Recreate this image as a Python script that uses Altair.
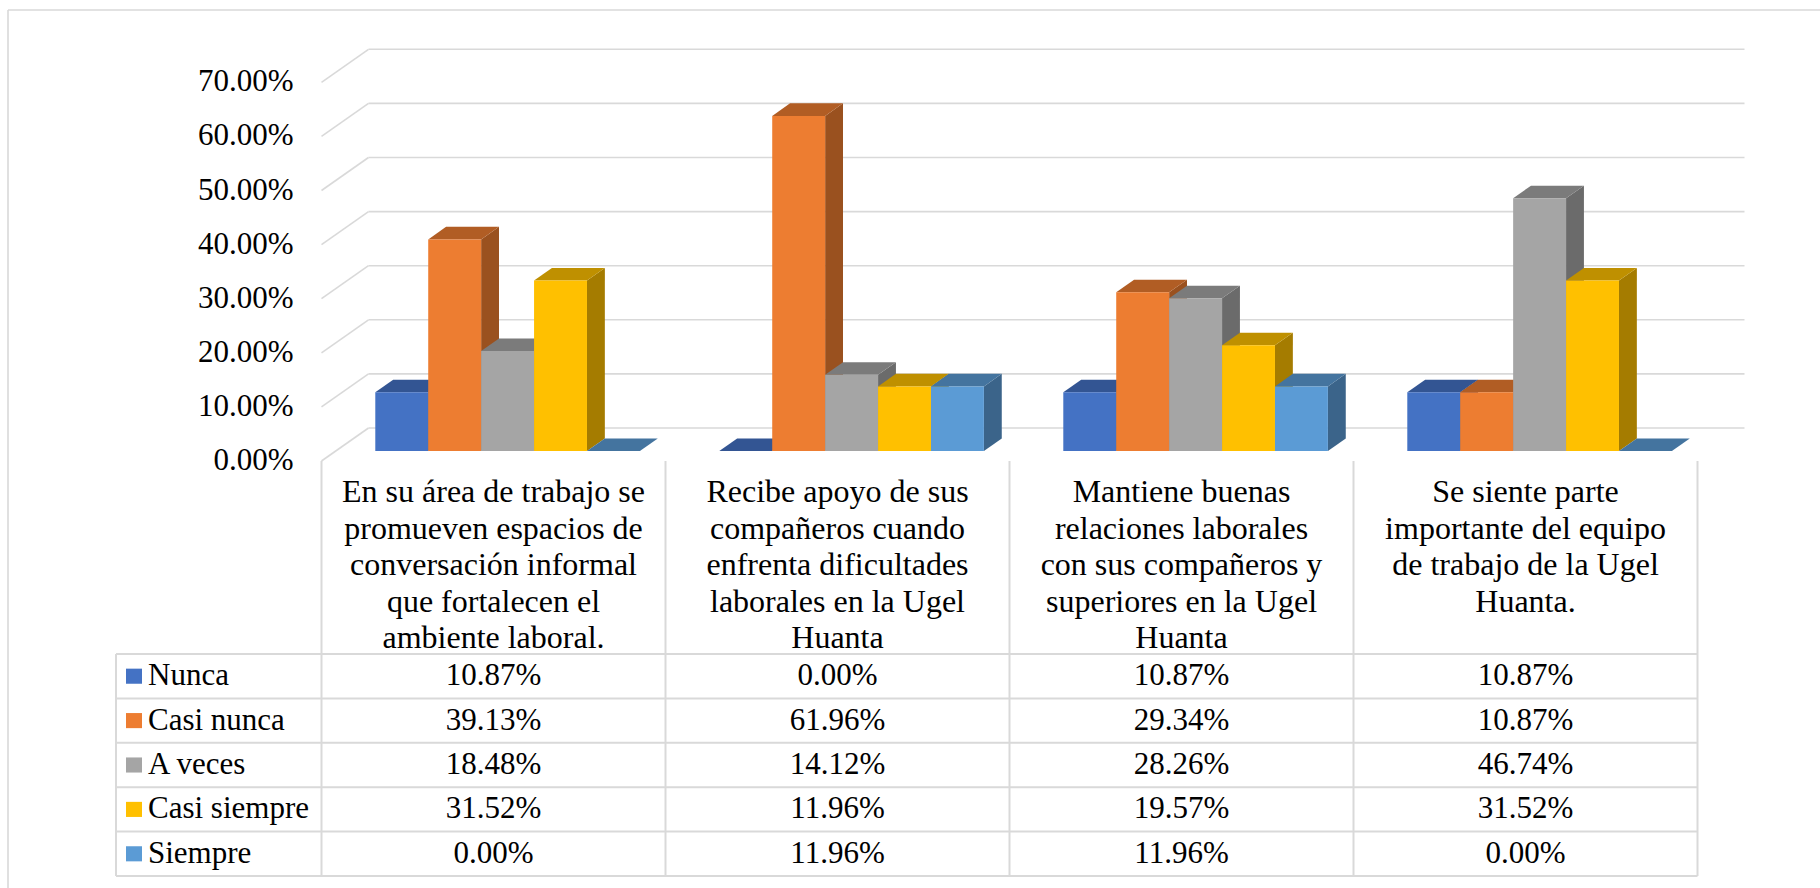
import altair as alt
import pandas as pd

# ---------------- data ----------------
categories = [
    "En su área de trabajo se\npromueven espacios de\nconversación informal\nque fortalecen el\nambiente laboral.",
    "Recibe apoyo de sus\ncompañeros cuando\nenfrenta dificultades\nlaborales en la Ugel\nHuanta",
    "Mantiene buenas\nrelaciones laborales\ncon sus compañeros y\nsuperiores en la Ugel\nHuanta",
    "Se siente parte\nimportante del equipo\nde trabajo de la Ugel\nHuanta.",
]
series = ["Nunca", "Casi nunca", "A veces", "Casi siempre", "Siempre"]
nunca = [10.87, 0.00, 10.87, 10.87]
casi_nunca = [39.13, 61.96, 29.34, 10.87]
a_veces = [18.48, 14.12, 28.26, 46.74]
casi_siempre = [31.52, 11.96, 19.57, 31.52]
siempre = [0.00, 11.96, 11.96, 0.00]
y_ticks = [0, 10, 20, 30, 40, 50, 60, 70]
colors = ["#4472C4", "#ED7D31", "#A5A5A5", "#FFC000", "#5B9BD5"]

values = [nunca, casi_nunca, a_veces, casi_siempre, siempre]

# ---------------- layout constants ----------------
W, H = 1820, 888
X0, COL = 321.5, 344.0      # front plane left edge, width of one category
Y0, PXP = 461.0, 5.41       # front plane 0 %, pixels per percent
R0, ROW = 654.0, 44.4       # first data row top, row height
FONT = "Liberation Serif"
GRID = "#D9D9D9"

xdom = [(0 - X0) / COL, (W - X0) / COL]
ydom = [(Y0 - H) / PXP, (Y0 - 0) / PXP]
tdom = [(0 - R0) / ROW, (H - R0) / ROW]

DXF = 47.0 / COL            # full depth of the 3D box (x units)
DYF = 33.0 / PXP            # full depth of the 3D box (percent units)
F0, F1 = 0.30, 0.68         # bars occupy this slice of depth
BW = 1.0 / 6.5              # bar width (gap width 150 %)
HDR_TOP = (Y0 - R0) / ROW
HDR_TXT = (477.0 - R0) / ROW
LEG_LEFT = (116.0 - X0) / COL
BOX_L = (8.0 - X0) / COL
BOX_T = (Y0 - 10.0) / PXP


def shade(hexc, f):
    r, g, b = (int(hexc[k:k + 2], 16) for k in (1, 3, 5))
    return "#%02x%02x%02x" % (int(r * f), int(g * f), int(b * f))


def xs():
    return alt.Scale(domain=xdom, nice=False, zero=False)


def ys():
    return alt.Scale(domain=ydom, nice=False, zero=False)


def ts():
    return alt.Scale(domain=tdom, nice=False, zero=False, reverse=True)


# ---------------- geometry from data ----------------
front, side, top = [], [], []
dx = (F1 - F0) * DXF
dy = (F1 - F0) * DYF
for i in range(len(categories)):
    for j in range(len(series)):
        v = values[j][i]
        bid = "b%02d%02d" % (i, j)
        xl = i + 0.5 + (j - 2.5) * BW + F0 * DXF
        xr = xl + BW
        yb = F0 * DYF
        yt = v + F0 * DYF
        front.append(dict(x=xl, x2=xr, y=yb, y2=yt, fill=colors[j], bid=bid))
        sc = shade(colors[j], 0.65)
        side.append(dict(x=xr, y=yt, y2=yb, fill=sc, bid=bid))
        side.append(dict(x=xr + dx, y=yt + dy, y2=yb + dy, fill=sc, bid=bid))
        tc = shade(colors[j], 0.75)
        top.append(dict(x=xl, y=yt, y2=yt, fill=tc, bid=bid))
        top.append(dict(x=xl + dx, y=yt + dy, y2=yt, fill=tc, bid=bid))
        top.append(dict(x=xr, y=yt + dy, y2=yt, fill=tc, bid=bid))
        top.append(dict(x=xr + dx, y=yt + dy, y2=yt + dy, fill=tc, bid=bid))

front_df = pd.DataFrame(front)
side_df = pd.DataFrame(side)
top_df = pd.DataFrame(top)

ncat = len(categories)
back_df = pd.DataFrame([dict(x=DXF, x2=ncat + DXF, y=t + DYF, y2=t + DYF) for t in y_ticks])
wall_df = pd.DataFrame([dict(x=0.0, x2=DXF, y=t, y2=t + DYF) for t in y_ticks])
tick_df = pd.DataFrame([dict(x=0.0, y=t, label="%.2f%%" % t) for t in y_ticks])
box_df = pd.DataFrame([
    dict(x=BOX_L, x2=BOX_L, y=BOX_T, y2=ydom[0]),
    dict(x=BOX_L, x2=xdom[1], y=BOX_T, y2=BOX_T),
])

# table
lines = []
for r in range(len(series) + 1):
    lines.append(dict(x=LEG_LEFT, x2=float(ncat), r=float(r), r2=float(r)))
lines.append(dict(x=LEG_LEFT, x2=LEG_LEFT, r=0.0, r2=float(len(series))))
for c in range(ncat + 1):
    lines.append(dict(x=float(c), x2=float(c), r=HDR_TOP, r2=float(len(series))))
lines_df = pd.DataFrame(lines)

sw_df = pd.DataFrame([dict(x=LEG_LEFT + 10 / COL, x2=LEG_LEFT + 26 / COL,
                           r=j + 0.33, r2=j + 0.67, fill=colors[j]) for j in range(len(series))])
leg_df = pd.DataFrame([dict(x=LEG_LEFT + 32 / COL, r=j + 0.5, label=series[j]) for j in range(len(series))])
val_df = pd.DataFrame([dict(x=i + 0.5, r=j + 0.5, label="%.2f%%" % values[j][i])
                       for i in range(ncat) for j in range(len(series))])
hdr_df = pd.DataFrame([dict(x=i + 0.5, r=HDR_TXT, label=categories[i]) for i in range(ncat)])

# ---------------- layers ----------------
X = lambda f="x": alt.X(f + ":Q", scale=xs(), axis=None)
Y = lambda f="y": alt.Y(f + ":Q", scale=ys(), axis=None, stack=None)
T = lambda f="r": alt.Y(f + ":Q", scale=ts(), axis=None)

box = alt.Chart(box_df).mark_rule(color=GRID, strokeWidth=1.6).encode(
    x=X(), x2="x2:Q", y=Y(), y2="y2:Q")
back = alt.Chart(back_df).mark_rule(color=GRID, strokeWidth=1.6).encode(
    x=X(), x2="x2:Q", y=Y(), y2="y2:Q")
wall = alt.Chart(wall_df).mark_rule(color=GRID, strokeWidth=1.6).encode(
    x=X(), x2="x2:Q", y=Y(), y2="y2:Q")
sides = alt.Chart(side_df).mark_area(interpolate="linear").encode(
    x=X(), y=Y(), y2="y2:Q", detail="bid:N",
    color=alt.Color("fill:N", scale=None))
tops = alt.Chart(top_df).mark_area(interpolate="linear").encode(
    x=X(), y=Y(), y2="y2:Q", detail="bid:N",
    color=alt.Color("fill:N", scale=None))
fronts = alt.Chart(front_df).mark_rect().encode(
    x=X(), x2="x2:Q", y=Y(), y2="y2:Q",
    color=alt.Color("fill:N", scale=None))
ticks = alt.Chart(tick_df).mark_text(
    align="right", baseline="middle", dx=-28, font=FONT, fontSize=31, color="#000000").encode(
    x=X(), y=Y(), text="label:N")

tlines = alt.Chart(lines_df).mark_rule(color=GRID, strokeWidth=2).encode(
    x=X(), x2="x2:Q", y=T(), y2="r2:Q")
swatch = alt.Chart(sw_df).mark_rect().encode(
    x=X(), x2="x2:Q", y=T(), y2="r2:Q", color=alt.Color("fill:N", scale=None))
legtxt = alt.Chart(leg_df).mark_text(
    align="left", baseline="middle", font=FONT, fontSize=31, color="#000000").encode(
    x=X(), y=T(), text="label:N")
valtxt = alt.Chart(val_df).mark_text(
    align="center", baseline="middle", font=FONT, fontSize=31, color="#000000").encode(
    x=X(), y=T(), text="label:N")
hdrtxt = alt.Chart(hdr_df).mark_text(
    align="center", baseline="top", font=FONT, fontSize=32, lineHeight=36.5,
    lineBreak="\n", color="#000000").encode(
    x=X(), y=T(), text="label:N")

chart = alt.layer(
    box, back, wall, sides, tops, fronts, ticks, tlines, swatch, legtxt, valtxt, hdrtxt
).resolve_scale(y="independent").properties(
    width=W, height=H,
    autosize=alt.AutoSizeParams(type="none"),
    padding=0,
    background="white",
).configure_view(stroke=None)

chart.save("out.html", embed_options={"renderer": "svg", "actions": False})
